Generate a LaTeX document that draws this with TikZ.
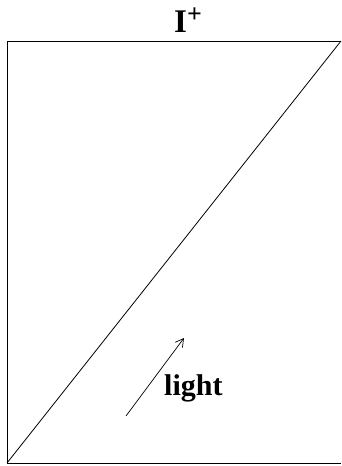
\documentclass[tikz,border=0pt]{standalone}
\usepackage{fontspec}
\setmainfont{Liberation Serif}
\usetikzlibrary{positioning,arrows.meta}

\begin{document}
\begin{tikzpicture}[
  x=1pt,y=-1pt,
  edge/.style={draw,line width=0.8pt},
  lbl/.style={inner sep=0pt,font=\bfseries\fontsize{30}{34}\selectfont}
]
\useasboundingbox (0,0) rectangle (342,466);
% --- corners of the diagram ---
\coordinate (bl) at (7,463);
\coordinate (tl) at (7,41);
\coordinate (tr) at (341,41);
\coordinate (br) at (341,463);

% --- boundary and light ray ---
\draw[edge] (tr) -- (tl) -- (bl) -- (br);
\draw[edge] (bl) -- (tr);

% --- arrow for light ---
\coordinate (lightstart) at (126,416);
\coordinate (lightend) at (184,338);
\draw[line width=0.7pt,-{Straight Barb[length=8pt,width=9pt]}] (lightstart) -- (lightend);

% --- labels ---
\node[lbl,anchor=base west,font=\bfseries\fontsize{33}{36}\selectfont] (scri) at (174,32)
  {I\raisebox{10pt}{\fontsize{26}{28}\selectfont\bfseries +}};
\node[lbl,anchor=base west] (light) at (164,395) {light};
\end{tikzpicture}
\end{document}
